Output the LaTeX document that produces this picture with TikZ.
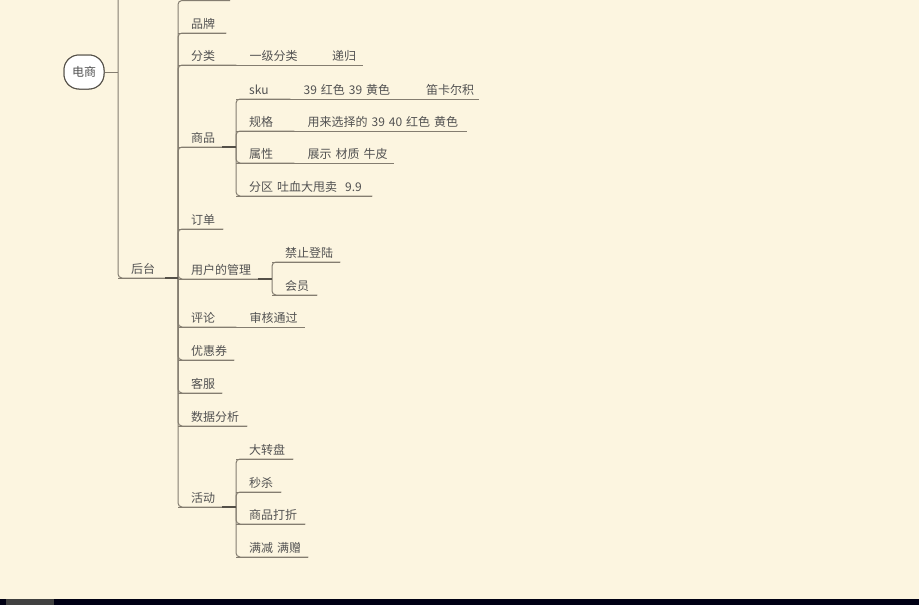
\documentclass[tikz,border=0pt]{standalone}
\usepackage{fontspec}
\setmainfont{Noto Sans CJK SC}
\usetikzlibrary{positioning}
\definecolor{paperbg}{RGB}{252,245,224}
\definecolor{branchc}{RGB}{132,125,112}
\definecolor{forkc}{RGB}{84,80,72}
\definecolor{topictext}{RGB}{82,82,82}
\tikzset{
   topic/.style={anchor=south west, inner xsep=0pt, inner ysep=0pt, text width=#1, align=left,
                 text height=12pt, text depth=4.5pt, font=\fontsize{12}{14}\selectfont, text=topictext,
                 execute at begin node={\noindent\hspace*{13pt}}},
   branch/.style={draw=branchc, line width=1pt, rounded corners=4pt},
   fork/.style={draw=forkc, line width=2pt},
   central/.style={draw=forkc, fill=white, line width=1pt, rounded corners=15pt, inner sep=0pt,
                 minimum width=40pt, minimum height=34pt, font=\fontsize{12}{14}\selectfont, text=topictext}
}
\begin{document}
\begin{tikzpicture}[x=1pt,y=-1pt]
\path[use as bounding box, fill=paperbg] (0,0) rectangle (919,605);
\clip (0,0) rectangle (919,605);

% root and back end
\node[central] (dianshang) at (84,72) {电商};
\coordinate (rootfork) at (118,72);
\coordinate (rootup) at (118,-20);
\node[topic=47] (houtai) at (118,278) {后台};
\coordinate (hfork) at (178,278);
\coordinate (cuttop) at (230,0.5);

% first level
\node[topic=48] (pinpai) at (178,33) {品牌};
\node[topic=58] (fenlei) at (178,65) {分类};
\node[topic=44] (shangpin) at (178,147) {商品};
\node[topic=45] (dingdan) at (178,229) {订单};
\node[topic=80] (yonghu) at (178,279) {用户的管理};
\node[topic=58] (pinglun) at (178,327) {评论};
\node[topic=56] (youhui) at (178,360) {优惠券};
\node[topic=44] (kefu) at (178,393) {客服};
\node[topic=69] (shuju) at (178,426) {数据分析};
\node[topic=44] (huodong) at (178,507) {活动};

% chains
\node[topic=82] (yiji) at (fenlei.south east) {一级分类};
\node[topic=44] (digui) at (yiji.south east) {递归};
\node[topic=68] (shenhe) at (pinglun.south east) {审核通过};

% goods
\coordinate (spfork) at (236,147);
\node[topic=54] (sku) at (236,99) {sku};
\node[topic=122] (yanse) at (sku.south east) {39 红色 39 黄色};
\node[topic=66] (dikaer) at (yanse.south east) {笛卡尔积};
\node[topic=58] (guige) at (236,131) {规格};
\node[topic=172] (xuanze) at (guige.south east) {用来选择的 39 40 红色 黄色};
\node[topic=58] (shuxing) at (236,163) {属性};
\node[topic=99] (zhanshi) at (shuxing.south east) {展示 材质 牛皮};
\node[topic=136] (fenqu) at (236,196) {分区 吐血大甩卖\ \ 9.9};

% users
\coordinate (yhfork) at (272,279);
\node[topic=68] (jinzhi) at (272,262) {禁止登陆};
\node[topic=45] (huiyuan) at (272,295) {会员};

% activities
\coordinate (hdfork) at (236,507);
\node[topic=57] (zhuanpan) at (236,459) {大转盘};
\node[topic=45] (miaosha) at (236,492) {秒杀};
\node[topic=69] (dazhe) at (236,524) {商品打折};
\node[topic=72] (manjian) at (236,557) {满减 满赠};

% underlines
\foreach \n in {houtai,pinpai,fenlei,shangpin,dingdan,yonghu,pinglun,youhui,kefu,shuju,huodong,
                yiji,digui,shenhe,sku,yanse,dikaer,guige,xuanze,shuxing,zhanshi,fenqu,
                jinzhi,huiyuan,zhuanpan,miaosha,dazhe,manjian}
   \draw[branch] (\n.south west) -- (\n.south east);

% connectors
\draw[branch] (dianshang.east) -- (rootfork);
\draw[branch] (rootup) |- (houtai.south east);
\draw[branch] (hfork) |- (cuttop);
\foreach \c in {pinpai,fenlei,shangpin,dingdan,yonghu,pinglun,youhui,kefu,shuju,huodong}
   \draw[branch] (hfork) |- (\c.south east);
\foreach \c in {sku,guige,shuxing,fenqu}
   \draw[branch] (spfork) |- (\c.south east);
\foreach \c in {jinzhi,huiyuan}
   \draw[branch] (yhfork) |- (\c.south east);
\foreach \c in {zhuanpan,miaosha,dazhe,manjian}
   \draw[branch] (hdfork) |- (\c.south east);
\draw[fork] (houtai.south east) -- (hfork);
\draw[fork] (shangpin.south east) -- (spfork);
\draw[fork] (yonghu.south east) -- (yhfork);
\draw[fork] (huodong.south east) -- (hdfork);
\node[central] at (dianshang) {电商};

% screen bar
\fill[black!92!blue] (0,599) rectangle (919,605);
\fill[black!75] (6,599) rectangle (54,605);
\end{tikzpicture}
\end{document}
